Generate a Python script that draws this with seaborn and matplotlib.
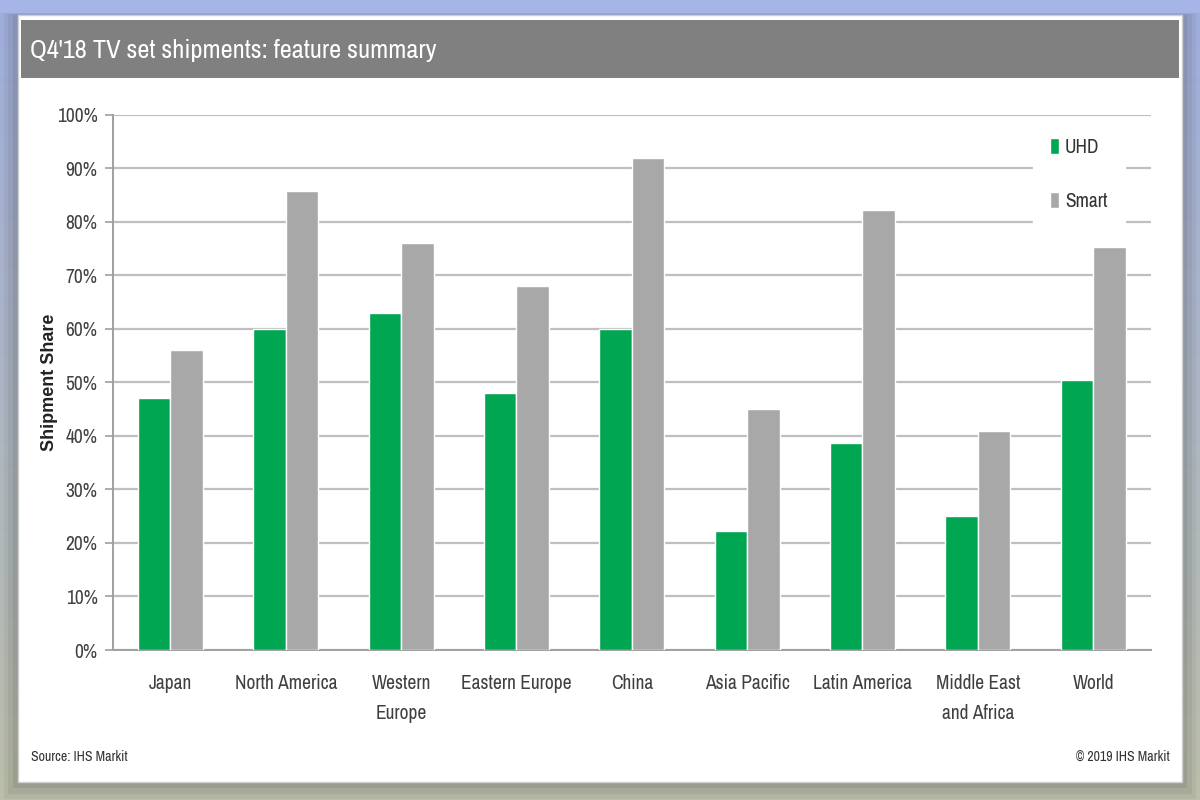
import numpy as np
import pandas as pd
import seaborn as sns
import matplotlib.pyplot as plt
from matplotlib.patches import Rectangle
from matplotlib.colors import to_rgb

# data
regions = ["Japan", "North America", "Western\nEurope", "Eastern Europe", "China",
           "Asia Pacific", "Latin America", "Middle East\nand Africa", "World"]
uhd = [47, 60, 63, 48, 60, 22.3, 38.7, 25, 50.5]
smart = [56, 85.8, 76, 68, 92, 45, 82.3, 41, 75.3]
series = ["UHD", "Smart"]
yticks = [0, 10, 20, 30, 40, 50, 60, 70, 80, 90, 100]

df = pd.DataFrame({"Region": regions * 2,
                   "Feature": ["UHD"] * len(regions) + ["Smart"] * len(regions),
                   "Share": uhd + smart})

sns.set_style("white")
narrow = ["Archivo Narrow", "Roboto Condensed", "PT Sans Narrow", "Liberation Sans", "DejaVu Sans"]
plt.rcParams["font.family"] = narrow

fig = plt.figure(figsize=(12, 8), dpi=100)

# gradient backdrop of the screenshot
bg = fig.add_axes([0, 0, 1, 1], zorder=0)
top_c = np.array(to_rgb("#a6b5e8"))
bot_c = np.array(to_rgb("#c3c7b2"))
t = np.linspace(0, 1, 200)[:, None]
grad = (top_c * (1 - t) + bot_c * t)[:, None, :].repeat(2, axis=1)
bg.imshow(grad, aspect="auto", extent=[0, 1, 0, 1])
bg.set_axis_off()

# soft shadow + white panel
for i, a in enumerate([0.06, 0.06, 0.07, 0.09]):
    d = (4 - i) * 0.004
    fig.patches.append(Rectangle((0.015 - d, 0.0225 - d * 1.8), 0.97 + 2 * d, 0.9585 + 2 * d,
                                 transform=fig.transFigure, color="#30302a", alpha=a,
                                 zorder=1, lw=0))
fig.patches.append(Rectangle((0.015, 0.0225), 0.97, 0.9585, transform=fig.transFigure,
                             facecolor="white", edgecolor="#d0d0d0", lw=1, zorder=2))
# header bar
fig.patches.append(Rectangle((0.0175, 0.9025), 0.965, 0.0725, transform=fig.transFigure,
                             facecolor="#808080", lw=0, zorder=3))
fig.text(0.025, 0.937, "Q4'18 TV set shipments: feature summary", color="white",
         fontsize=19, fontweight="medium", va="center", ha="left", zorder=4)

ax = fig.add_axes([0.094, 0.1875, 0.865, 0.669], zorder=5)
ax.patch.set_alpha(0)

sns.barplot(data=df, x="Region", y="Share", hue="Feature", hue_order=series,
            palette=["#00a651", "#a8a8a8"], width=0.565, saturation=1,
            ax=ax, zorder=3)

ax.set_ylim(0, 100)
ax.set_xlim(-0.5, len(regions) - 0.5)
ax.set_yticks(yticks)
ax.set_yticklabels([f"{v}%" for v in yticks], fontsize=14, color="#404040")
ax.yaxis.grid(True, color="#bfbfbf", lw=1.6, zorder=0)
ax.set_axisbelow(True)

ax.set_xticks(np.arange(-0.5, len(regions), 1), minor=True)
ax.tick_params(axis="x", which="major", length=0, pad=17, labelsize=14, labelcolor="#404040")
ax.tick_params(axis="x", which="minor", length=7, width=1.2, color="#a0a0a0")
ax.tick_params(axis="y", length=6, width=1.2, color="#a0a0a0", left=True, pad=5)
for lab in ax.get_xticklabels():
    lab.set_linespacing(1.75)

for s in ["top", "right"]:
    ax.spines[s].set_visible(False)
for s in ["left", "bottom"]:
    ax.spines[s].set_color("#a0a0a0")
    ax.spines[s].set_linewidth(1.4)

ax.set_xlabel("")
ax.set_ylabel("Shipment Share", fontsize=13, fontweight="bold", color="#222222",
              family=["Liberation Sans", "DejaVu Sans"])
ax.yaxis.set_label_coords(-0.053, 0.5)

handles, labels = ax.get_legend_handles_labels()
leg = ax.legend(handles, labels, loc="upper right", bbox_to_anchor=(0.975, 0.99),
                frameon=True, facecolor="white", edgecolor="white", framealpha=1,
                fontsize=14, handlelength=0.45, handleheight=0.9, handletextpad=0.3,
                labelspacing=1.8, borderpad=0.9, borderaxespad=0)
for txt in leg.get_texts():
    txt.set_color("#333333")

fig.text(0.026, 0.054, "Source: IHS Markit", fontsize=10, color="#333333", ha="left",
         va="center", zorder=6)
fig.text(0.975, 0.054, "\u00a9 2019 IHS Markit", fontsize=10, color="#333333", ha="right",
         va="center", zorder=6)

fig.savefig("out.png", dpi=100)
